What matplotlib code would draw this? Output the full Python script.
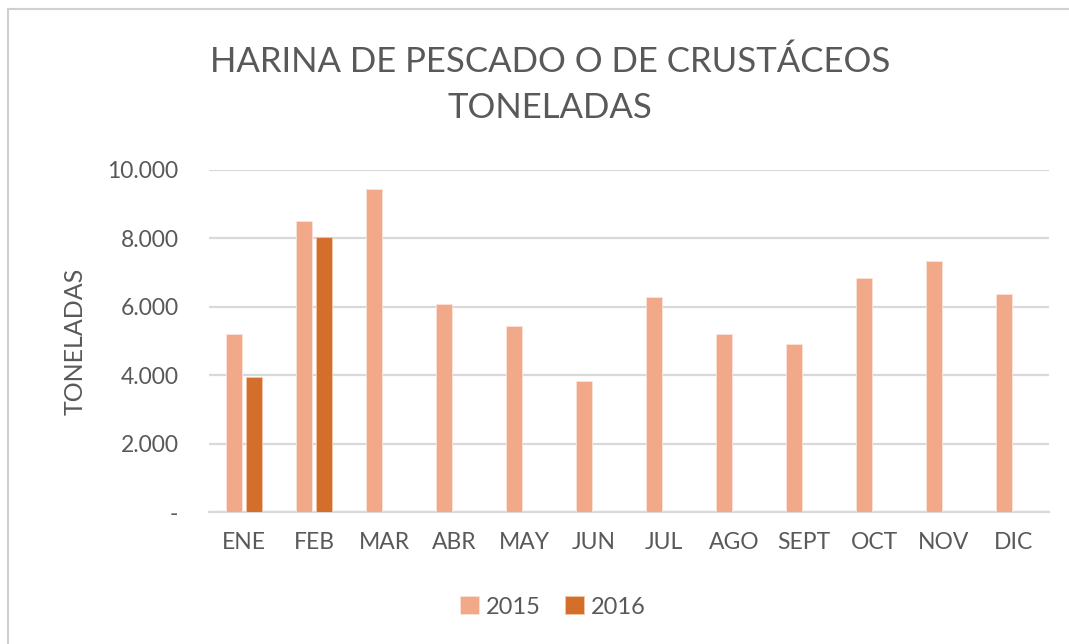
import numpy as np
import matplotlib.pyplot as plt
from matplotlib.patches import Rectangle
from matplotlib.ticker import FixedLocator

meses = ['ENE', 'FEB', 'MAR', 'ABR', 'MAY', 'JUN', 'JUL', 'AGO', 'SEPT', 'OCT', 'NOV', 'DIC']
t2015 = [5220, 8500, 9450, 6085, 5430, 3845, 6300, 5220, 4925, 6835, 7340, 6380]
t2016 = [3960, 8040]
yticks = [0, 2000, 4000, 6000, 8000, 10000]
ylabels = ['-', '2.000', '4.000', '6.000', '8.000', '10.000']

plt.rcParams['font.family'] = ['Lato', 'DejaVu Sans']
gris = '#595959'
color2015 = '#F1A98A'
color2016 = '#D46F2B'

fig = plt.figure(figsize=(10.69, 6.44), dpi=100)
# marco del grafico
fig.patches.append(Rectangle((8 / 1069, -0.1), 1.2, 1 - 9 / 644 + 0.1, transform=fig.transFigure,
                             fill=False, edgecolor='#d0d0d0', linewidth=1.5))
ax = fig.add_axes([209 / 1069, 1 - 512.3 / 644, 840 / 1069, (512.3 - 170) / 644])

x = np.arange(len(meses))
w = 0.223
ax.bar(x[:len(t2015)] - 0.143, t2015, w, color=color2015, edgecolor='#fbe3d8', linewidth=0.6, label='2015', zorder=3)
ax.bar(x[:len(t2016)] + 0.143, t2016, w, color=color2016, edgecolor='#f3c7a8', linewidth=0.6, label='2016', zorder=3)

ax.set_xlim(-0.5, len(meses) - 0.5)
ax.set_ylim(0, 10000)
ax.yaxis.set_major_locator(FixedLocator(yticks))
ax.set_yticklabels(ylabels)
ax.set_xticks(x)
ax.set_xticklabels(meses)
ax.tick_params(length=0, labelsize=16.5, colors=gris)
ax.tick_params(axis='x', pad=14)
ax.tick_params(axis='y', pad=22)
ax.grid(axis='y', color='#d9d9d9', linewidth=1.6, zorder=0)
for s in ['top', 'right', 'left']:
    ax.spines[s].set_visible(False)
ax.spines['bottom'].set_color('#d9d9d9')
ax.spines['bottom'].set_linewidth(1.6)

ax.set_ylabel('TONELADAS', fontsize=18, color=gris, labelpad=15)
fig.text(550 / 1069, 1 - 62 / 644, 'HARINA DE PESCADO O DE CRUSTÁCEOS', ha='center', va='center',
         fontsize=25, color=gris)
fig.text(550 / 1069, 1 - 108 / 644, 'TONELADAS', ha='center', va='center', fontsize=25, color=gris)

leg = ax.legend(loc='center', bbox_to_anchor=((553 - 209) / 840, (512.3 - 607) / 342.3), ncol=2,
                frameon=False, fontsize=17, handlelength=0.8, handleheight=0.8, handletextpad=0.3,
                columnspacing=1.0)
for t in leg.get_texts():
    t.set_color(gris)

fig.savefig('out.png', dpi=100)
